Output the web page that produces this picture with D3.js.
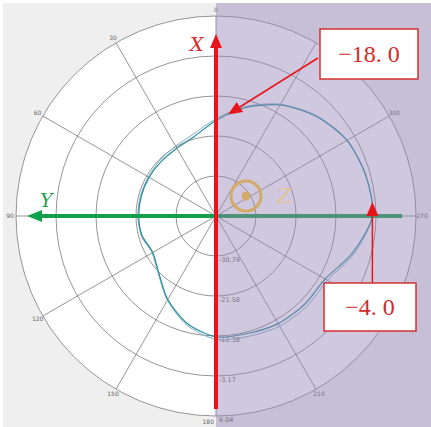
<!DOCTYPE html>
<html>
<head>
<meta charset="utf-8">
<script src="https://cdn.jsdelivr.net/npm/d3@7"></script>
<style>
  body { margin: 0; background: #fff; }
  svg { display: block; }
</style>
</head>
<body>
<div id="chart"></div>
<script>
// angles in degrees, counter-clockwise from top
const angles = [0, 15, 30, 45, 60, 75, 90, 105, 120, 135, 150, 165,
                180, 195, 210, 225, 240, 255, 270, 285, 300, 315, 330, 345];
// gain (dB), two traces
const gainA = [-18.0, -21.0, -22.0, -22.2, -22.2, -22.2, -22.2, -22.4, -23.2, -21.4, -17.8, -14.4,
               -12.2, -12.0, -11.4, -11.2, -11.0, -7.4, -4.0, -4.3, -5.2, -7.5, -10.5, -14.2];
const gainB = [-17.6, -20.4, -21.4, -21.8, -22.0, -22.0, -22.0, -22.2, -23.0, -21.2, -17.6, -14.0,
               -11.6, -11.3, -10.7, -10.5, -10.4, -7.0, -3.9, -4.2, -5.1, -7.3, -10.3, -13.9];
const angleTicks = [0, 30, 60, 90, 120, 150, 180, 210, 240, 270, 300, 330];
const hiddenTicks = [240, 330];  // covered by the callout boxes
const ringValues = [-30.79, -21.58, -12.38, -3.17, 6.04];
const rMin = -40, rMax = 6.04;
const notes = [{text: "\u221218. 0", angle: 0, value: -18.0}, {text: "\u22124. 0", angle: 270, value: -4.0}];

const W = 431, H = 427;
const cx = 216, cy = 216, R = 200;

const svg = d3.select("#chart").append("svg")
    .attr("width", W).attr("height", H);

svg.append("rect")
    .attr("x", 3).attr("y", 3)
    .attr("width", W - 3).attr("height", H - 3)
    .attr("fill", "#efefef");

const r = d3.scaleLinear().domain([rMin, rMax]).range([0, R]);
const rad = d => -d * Math.PI / 180;  // ccw from top -> d3 clockwise angle
const px = (a, v) => cx - r(v) * Math.sin(a * Math.PI / 180);
const py = (a, v) => cy - r(v) * Math.cos(a * Math.PI / 180);

const g = svg.append("g").attr("transform", `translate(${cx},${cy})`);

g.append("circle").attr("r", R).attr("fill", "#fff");

// rings
g.selectAll(".ring")
    .data(ringValues)
    .join("circle")
    .attr("r", d => r(d))
    .attr("fill", "none")
    .attr("stroke", "#7a7a7a")
    .attr("stroke-width", 0.8);

// spokes
g.selectAll(".spoke")
    .data(angleTicks)
    .join("line")
    .attr("x1", 0).attr("y1", 0)
    .attr("x2", d => -R * Math.sin(d * Math.PI / 180))
    .attr("y2", d => -R * Math.cos(d * Math.PI / 180))
    .attr("stroke", "#7a7a7a")
    .attr("stroke-width", 0.8);

// angle labels
g.selectAll(".alab")
    .data(angleTicks.filter(d => !hiddenTicks.includes(d)))
    .join("text")
    .attr("x", d => d === 180 ? -2 : -(R + 6) * Math.sin(d * Math.PI / 180))
    .attr("y", d => -(R + 6) * Math.cos(d * Math.PI / 180) + 2)
    .attr("text-anchor", d => d === 180 ? "end" : "middle")
    .attr("font-family", "DejaVu Sans")
    .attr("font-size", 6)
    .attr("fill", "#666")
    .text(d => d);

// radial labels
g.selectAll(".rlab")
    .data(ringValues)
    .join("text")
    .attr("x", 3)
    .attr("y", d => r(d) + 6)
    .attr("font-family", "DejaVu Sans")
    .attr("font-size", 6.5)
    .attr("fill", "#666")
    .text(d => d.toFixed(2));

const line = d3.lineRadial()
    .angle((d, i) => rad(angles[i]))
    .radius(d => r(d))
    .curve(d3.curveCardinalClosed.tension(0.2));

g.append("path").datum(gainB)
    .attr("d", line)
    .attr("fill", "none")
    .attr("stroke", "#7fb0c8")
    .attr("stroke-width", 1);

g.append("path").datum(gainA)
    .attr("d", line)
    .attr("fill", "none")
    .attr("stroke", "#2b8a9c")
    .attr("stroke-width", 1.2);

// Y axis arrow (green, under the shading)
g.append("line")
    .attr("x1", 186).attr("y1", 0)
    .attr("x2", -175).attr("y2", 0)
    .attr("stroke", "#14a04a")
    .attr("stroke-width", 4);
g.append("path")
    .attr("d", "M-189,0 L-174,-6 L-174,6 Z")
    .attr("fill", "#14a04a");
g.append("text")
    .attr("x", -176).attr("y", -9)
    .attr("font-family", "DejaVu Serif")
    .attr("font-style", "italic")
    .attr("font-size", 19)
    .attr("fill", "#22a050")
    .text("Y");

// purple shading on right half
svg.append("rect")
    .attr("x", cx).attr("y", 3)
    .attr("width", W - cx).attr("height", H - 3)
    .attr("fill", "#9785b6")
    .attr("fill-opacity", 0.45);

// Z symbol
const z = svg.append("g").attr("transform", `translate(${cx},${cy})`);
z.append("circle")
    .attr("cx", 30).attr("cy", -20).attr("r", 15)
    .attr("fill", "none")
    .attr("stroke", "#d4aa68")
    .attr("stroke-width", 3);
z.append("circle")
    .attr("cx", 30).attr("cy", -20).attr("r", 4.5)
    .attr("fill", "#d4aa68");
z.append("text")
    .attr("x", 61).attr("y", -13)
    .attr("font-family", "DejaVu Serif")
    .attr("font-style", "italic")
    .attr("font-size", 21)
    .attr("fill", "#e2c394")
    .text("Z");

// X axis arrow (red)
svg.append("line")
    .attr("x1", cx).attr("y1", 409)
    .attr("x2", cx).attr("y2", 46)
    .attr("stroke", "#e8141c")
    .attr("stroke-width", 4);
svg.append("path")
    .attr("d", `M${cx},34 L${cx - 6},48 L${cx + 6},48 Z`)
    .attr("fill", "#e8141c");
svg.append("text")
    .attr("x", 190).attr("y", 51)
    .attr("font-family", "DejaVu Serif")
    .attr("font-style", "italic")
    .attr("font-size", 19)
    .attr("fill", "#e02828")
    .text("X");

// annotation callouts
const boxes = [
    {x: 320, y: 29, w: 98, h: 50, tx: 318, ty: 58},
    {x: 324, y: 283, w: 92, h: 48, tx: px(270, -4.0), ty: 283}
];
notes.forEach((n, i) => {
    const b = boxes[i];
    const tipX = px(n.angle, n.value) + (i === 0 ? 12 : 0);
    const tipY = py(n.angle, n.value) + (i === 0 ? -6 : -14);
    const ang = Math.atan2(tipY - b.ty, tipX - b.tx);
    const hl = 14, hw = 6;
    const bx = tipX - hl * Math.cos(ang), by = tipY - hl * Math.sin(ang);
    svg.append("line")
        .attr("x1", b.tx).attr("y1", b.ty)
        .attr("x2", bx).attr("y2", by)
        .attr("stroke", "#e8141c")
        .attr("stroke-width", 1.5);
    svg.append("path")
        .attr("d", `M${tipX},${tipY} L${bx - hw * Math.sin(ang)},${by + hw * Math.cos(ang)} L${bx + hw * Math.sin(ang)},${by - hw * Math.cos(ang)} Z`)
        .attr("fill", "#e8141c");
    svg.append("rect")
        .attr("x", b.x).attr("y", b.y)
        .attr("width", b.w).attr("height", b.h)
        .attr("fill", "#fff")
        .attr("stroke", "#d43030")
        .attr("stroke-width", 1.5);
    svg.append("text")
        .attr("x", b.x + b.w / 2).attr("y", b.y + b.h / 2 + 8)
        .attr("text-anchor", "middle")
        .attr("font-family", "Liberation Serif")
        .attr("font-size", 24)
        .attr("fill", "#d42a2a")
        .text(n.text);
});
</script>
</body>
</html>
